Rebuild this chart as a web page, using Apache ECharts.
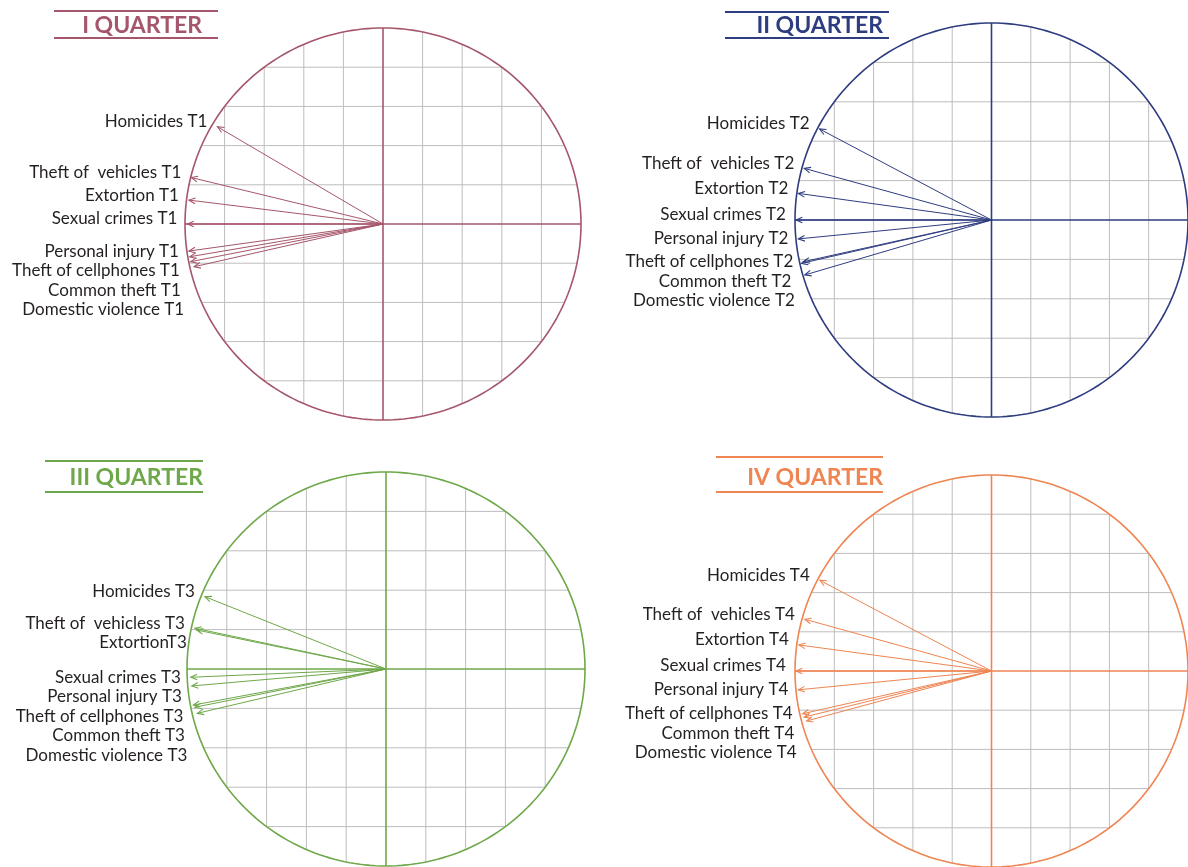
<!DOCTYPE html>
<html lang="en">
<head>
  <meta charset="UTF-8">
  <title>Correlation circles by quarter</title>
  <script src="https://cdn.jsdelivr.net/npm/echarts@6/dist/echarts.min.js"></script>
  <style>
    html, body { margin: 0; padding: 0; background: #fff; }
    #chart { width: 1188px; height: 867px; }
  </style>
</head>
<body>
  <div id="chart"></div>
  <script>
    // variable names (same order in every quarter)
    const crimes = ['Homicides', 'Theft of  vehicles', 'Extortion', 'Sexual crimes', 'Personal injury', 'Theft of cellphones', 'Common theft', 'Domestic violence'];
    // labels as printed in each panel
    const labelsT1 = crimes.map(c => c + ' T1');
    const labelsT2 = crimes.map(c => c + ' T2');
    const labelsT3 = ['Homicides T3', 'Theft of  vehicless T3', 'ExtortionT3', 'Sexual crimes T3', 'Personal injury T3', 'Theft of cellphones T3', 'Common theft T3', 'Domestic violence T3'];
    const labelsT4 = crimes.map(c => c + ' T4');

    // loadings on axis 1 (x) and axis 2 (y)
    const dim1T1 = [-0.836, -0.968, -0.980, -0.988, -0.980, -0.976, -0.971, -0.954];
    const dim2T1 = [0.496, 0.237, 0.122, 0.000, -0.138, -0.167, -0.192, -0.218];
    const dim1T2 = [-0.875, -0.953, -0.983, -0.995, -0.983, -0.958, -0.967, -0.950];
    const dim2T2 = [0.462, 0.262, 0.135, 0.000, -0.096, -0.212, -0.220, -0.279];
    const dim1T3 = [-0.910, -0.960, -0.951, -0.981, -0.976, -0.968, -0.960, -0.948];
    const dim2T3 = [0.367, 0.207, 0.198, -0.042, -0.086, -0.183, -0.194, -0.225];
    const dim1T4 = [-0.874, -0.950, -0.980, -0.995, -0.983, -0.961, -0.953, -0.941];
    const dim2T4 = [0.463, 0.264, 0.133, 0.000, -0.096, -0.218, -0.235, -0.255];

    // grid lines every 0.2 inside the unit circle
    const gridTicks = [-0.8, -0.6, -0.4, -0.2, 0, 0.2, 0.4, 0.6, 0.8];

    const titles = ['I QUARTER', 'II QUARTER', 'III QUARTER', 'IV QUARTER'];
    const colors = ['#A5566A', '#2E3D7F', '#6FA84A', '#EE8552'];

    // panel boxes (the square that holds the circle), in px
    const boxes = [
      { left: 185, top: 28, width: 396, height: 392 },
      { left: 795, top: 23, width: 400, height: 394 },
      { left: 187, top: 472, width: 398, height: 394 },
      { left: 795, top: 475, width: 398, height: 394 }
    ];
    // title blocks: lines from x1 to x2 at y1 / y2, text right edge tx, middle ty
    const titleBoxes = [
      { x1: 54, x2: 218, y1: 11, y2: 38, tx: 202, ty: 26 },
      { x1: 725, x2: 889, y1: 12, y2: 38, tx: 883, ty: 26 },
      { x1: 45, x2: 203, y1: 461, y2: 492, tx: 203, ty: 478 },
      { x1: 716, x2: 883, y1: 457, y2: 492, tx: 883, ty: 478 }
    ];

    const panels = [
      { labels: labelsT1, d1: dim1T1, d2: dim2T1 },
      { labels: labelsT2, d1: dim1T2, d2: dim2T2 },
      { labels: labelsT3, d1: dim1T3, d2: dim2T3 },
      { labels: labelsT4, d1: dim1T4, d2: dim2T4 }
    ];

    const FONT = 'Lato, "Open Sans", sans-serif';
    const GRID_GRAY = '#BDBDBD';

    // clipped grid lines + the two axes
    function frameRender(color) {
      return function (params, api) {
        const v = api.value(0);
        const h = Math.sqrt(1 - v * v);
        const isAxis = v === 0;
        const style = { stroke: isAxis ? color : GRID_GRAY, lineWidth: isAxis ? 1.6 : 1 };
        const a1 = api.coord([v, -h]), a2 = api.coord([v, h]);
        const b1 = api.coord([-h, v]), b2 = api.coord([h, v]);
        return {
          type: 'group',
          children: [
            { type: 'line', shape: { x1: a1[0], y1: a1[1], x2: a2[0], y2: a2[1] }, style: style, z2: isAxis ? 5 : 1 },
            { type: 'line', shape: { x1: b1[0], y1: b1[1], x2: b2[0], y2: b2[1] }, style: style, z2: isAxis ? 5 : 1 }
          ]
        };
      };
    }

    // unit circle, drawn through the axes
    function circleRender(color) {
      return function (params, api) {
        const pts = [];
        for (let i = 0; i <= 240; i++) {
          const t = i / 240 * Math.PI * 2;
          pts.push(api.coord([Math.cos(t), Math.sin(t)]));
        }
        return { type: 'polyline', shape: { points: pts }, style: { stroke: color, lineWidth: 1.6, fill: null } };
      };
    }

    // arrows from the origin + stacked labels on the left
    function arrowRender(panel, color) {
      return function (params, api) {
        // label y: follow the tip (a bit higher for the upper half), keep a gap to the label above
        const ys = [];
        for (let i = 0; i < panel.d1.length; i++) {
          const p = api.coord([panel.d1[i], panel.d2[i]]);
          const want = p[1] - (panel.d2[i] >= 0 ? 5 : 0);
          ys.push(i === 0 ? want : Math.max(want, ys[i - 1] + 19.5));
        }
        const i = params.dataIndex;
        const o = api.coord([0, 0]);
        const tip = api.coord([api.value(0), api.value(1)]);
        const ang = Math.atan2(tip[1] - o[1], tip[0] - o[0]);
        const len = 7, wing = 0.42;
        const h1 = [tip[0] - len * Math.cos(ang - wing), tip[1] - len * Math.sin(ang - wing)];
        const h2 = [tip[0] - len * Math.cos(ang + wing), tip[1] - len * Math.sin(ang + wing)];
        return {
          type: 'group',
          children: [
            { type: 'line', shape: { x1: o[0], y1: o[1], x2: tip[0], y2: tip[1] }, style: { stroke: color, lineWidth: 1 } },
            { type: 'polyline', shape: { points: [h1, tip, h2] }, style: { stroke: color, lineWidth: 1.1, fill: null } },
            {
              type: 'text', x: tip[0] - 10, y: ys[i],
              style: { text: panel.labels[i], align: 'right', verticalAlign: 'middle', fontSize: 17, fontFamily: FONT, fill: '#231F20' }
            }
          ]
        };
      };
    }

    const grids = [], xAxes = [], yAxes = [], series = [], graphics = [];
    panels.forEach((panel, k) => {
      grids.push(Object.assign({}, boxes[k]));
      xAxes.push({ gridIndex: k, type: 'value', min: -1, max: 1, show: false });
      yAxes.push({ gridIndex: k, type: 'value', min: -1, max: 1, show: false });
      series.push({
        type: 'custom', xAxisIndex: k, yAxisIndex: k, silent: true, clip: false, z: 1,
        data: gridTicks.map(t => [t]), renderItem: frameRender(colors[k])
      });
      series.push({
        type: 'custom', xAxisIndex: k, yAxisIndex: k, silent: true, clip: false, z: 3,
        data: [[0, 0]], renderItem: circleRender(colors[k])
      });
      series.push({
        type: 'custom', xAxisIndex: k, yAxisIndex: k, silent: true, clip: false, z: 4,
        data: panel.d1.map((x, i) => [x, panel.d2[i]]), renderItem: arrowRender(panel, colors[k])
      });
      const tb = titleBoxes[k];
      graphics.push(
        { type: 'line', shape: { x1: tb.x1, y1: tb.y1, x2: tb.x2, y2: tb.y1 }, style: { stroke: colors[k], lineWidth: 2 } },
        { type: 'line', shape: { x1: tb.x1, y1: tb.y2, x2: tb.x2, y2: tb.y2 }, style: { stroke: colors[k], lineWidth: 2 } },
        { type: 'text', x: tb.tx, y: tb.ty, style: { text: titles[k], align: 'right', verticalAlign: 'middle', font: 'bold 23px ' + FONT, fill: colors[k] } }
      );
    });

    const chart = echarts.init(document.getElementById('chart'));
    chart.setOption({
      animation: false,
      backgroundColor: '#fff',
      grid: grids,
      xAxis: xAxes,
      yAxis: yAxes,
      series: series,
      graphic: graphics
    });
  </script>
</body>
</html>
